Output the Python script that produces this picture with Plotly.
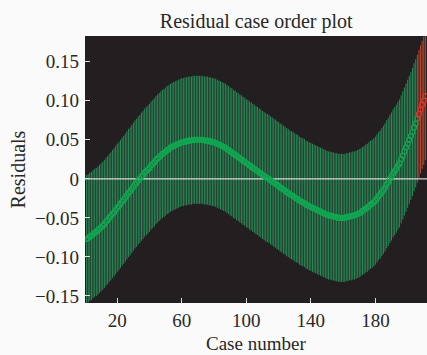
import plotly.graph_objects as go

# ---- data ----
residuals = [
    -0.077, -0.076, -0.074, -0.073, -0.071, -0.069, -0.068, -0.066, -0.064, -0.062,
    -0.060, -0.058, -0.055, -0.053, -0.050, -0.048, -0.045, -0.043, -0.040, -0.037,
    -0.035, -0.032, -0.029, -0.027, -0.024, -0.021, -0.018, -0.016, -0.013, -0.010,
    -0.007, -0.005, -0.002, 0.000, 0.003, 0.005, 0.008, 0.010, 0.012, 0.014,
    0.017, 0.019, 0.021, 0.024, 0.026, 0.028, 0.030, 0.032, 0.033, 0.035,
    0.037, 0.038, 0.040, 0.041, 0.042, 0.043, 0.044, 0.045, 0.046, 0.047,
    0.047, 0.048, 0.048, 0.049, 0.049, 0.049, 0.050, 0.050, 0.050, 0.050,
    0.050, 0.050, 0.050, 0.049, 0.049, 0.049, 0.048, 0.048, 0.047, 0.047,
    0.046, 0.045, 0.044, 0.043, 0.042, 0.041, 0.040, 0.038, 0.037, 0.035,
    0.034, 0.032, 0.031, 0.029, 0.028, 0.026, 0.025, 0.023, 0.022, 0.020,
    0.019, 0.017, 0.016, 0.014, 0.013, 0.011, 0.010, 0.008, 0.007, 0.005,
    0.004, 0.002, 0.001, 0.000, -0.002, -0.003, -0.005, -0.006, -0.008, -0.009,
    -0.011, -0.012, -0.014, -0.015, -0.017, -0.018, -0.020, -0.021, -0.022, -0.024,
    -0.025, -0.026, -0.028, -0.029, -0.030, -0.031, -0.033, -0.034, -0.035, -0.036,
    -0.037, -0.038, -0.039, -0.040, -0.041, -0.042, -0.043, -0.044, -0.045, -0.046,
    -0.047, -0.047, -0.048, -0.048, -0.049, -0.049, -0.050, -0.050, -0.050, -0.050,
    -0.050, -0.049, -0.049, -0.048, -0.048, -0.047, -0.047, -0.046, -0.045, -0.044,
    -0.043, -0.041, -0.040, -0.038, -0.037, -0.035, -0.033, -0.032, -0.030, -0.028,
    -0.025, -0.022, -0.020, -0.017, -0.014, -0.011, -0.007, -0.004, 0.000, 0.003,
    0.007, 0.010, 0.013, 0.017, 0.020, 0.025, 0.030, 0.035, 0.040, 0.045,
    0.050, 0.055, 0.060, 0.066, 0.071, 0.077, 0.083, 0.089, 0.095, 0.100, 0.106,
]
case_numbers = list(range(1, len(residuals) + 1))
ci_half_width = 0.082

y_tick_vals = [-0.15, -0.10, -0.05, 0, 0.05, 0.10, 0.15]
y_tick_text = ["\u22120.15", "\u22120.10", "\u22120.05", "0", "0.05", "0.10", "0.15"]
x_tick_vals = [20, 60, 100, 140, 180]
x_tick_text = ["20", "60", "100", "140", "180"]

X_RANGE = [0, 212]
Y_RANGE = [-0.159, 0.183]

# ---- styles ----
GREEN_BAR = "rgb(42,140,88)"
GREEN_PT = "rgb(16,168,82)"
RED_BAR = "rgb(185,72,52)"
RED_PT = "rgb(230,50,40)"
FONT = "Liberation Serif"
TXT = "rgb(40,40,40)"

lower = [r - ci_half_width for r in residuals]
upper = [r + ci_half_width for r in residuals]
is_out = [lo > 0 or hi < 0 for lo, hi in zip(lower, upper)]


def segs(mask):
    xs, ys = [], []
    for c, lo, hi, m in zip(case_numbers, lower, upper, mask):
        if m:
            xs += [c, c, None]
            ys += [lo, hi, None]
    return xs, ys


fig = go.Figure()
gx, gy = segs([not o for o in is_out])
fig.add_trace(go.Scatter(x=gx, y=gy, mode="lines",
                         line=dict(color=GREEN_BAR, width=1), hoverinfo="skip"))
fig.add_trace(go.Scatter(x=X_RANGE, y=[0, 0], mode="lines",
                         line=dict(color="rgb(215,215,215)", width=1.2), hoverinfo="skip"))
fig.add_trace(go.Scatter(
    x=[c for c, o in zip(case_numbers, is_out) if not o],
    y=[r for r, o in zip(residuals, is_out) if not o],
    mode="markers",
    marker=dict(symbol="circle-open", size=5, color=GREEN_PT, line=dict(width=1.1, color=GREEN_PT))))
rx, ry = segs(is_out)
fig.add_trace(go.Scatter(x=rx, y=ry, mode="lines",
                         line=dict(color=RED_BAR, width=1), hoverinfo="skip"))
fig.add_trace(go.Scatter(
    x=[c for c, o in zip(case_numbers, is_out) if o],
    y=[r for r, o in zip(residuals, is_out) if o],
    mode="markers",
    marker=dict(symbol="circle-open", size=5, color=RED_PT, line=dict(width=1.1, color=RED_PT))))

fig.add_annotation(text="Case number", xref="paper", yref="paper", x=0.5, y=-0.152,
                   xanchor="center", yanchor="middle", showarrow=False,
                   font=dict(family=FONT, size=19, color=TXT))

fig.update_layout(
    width=427, height=355,
    margin=dict(l=85, r=0, t=36, b=52, autoexpand=False),
    paper_bgcolor="rgb(250,250,250)",
    plot_bgcolor="rgb(35,31,32)",
    showlegend=False,
    font=dict(family=FONT, size=19, color=TXT),
    title=dict(text="Residual case order plot", x=0.6, xanchor="center",
               y=0.94, yanchor="middle", font=dict(family=FONT, size=20, color=TXT)),
    xaxis=dict(range=X_RANGE, tickvals=x_tick_vals, ticktext=x_tick_text,
               ticks="inside", ticklen=5, tickcolor="rgb(220,220,220)",
               ticklabelstandoff=4, automargin=False,
               showgrid=False, zeroline=False, showline=False),
    yaxis=dict(range=Y_RANGE, tickvals=y_tick_vals, ticktext=y_tick_text,
               ticks="inside", ticklen=5, tickcolor="rgb(220,220,220)",
               ticklabelstandoff=5, automargin=False,
               showgrid=False, zeroline=False, showline=False,
               title=dict(text="Residuals", standoff=4, font=dict(size=20))),
)

fig.write_html("out.html")
